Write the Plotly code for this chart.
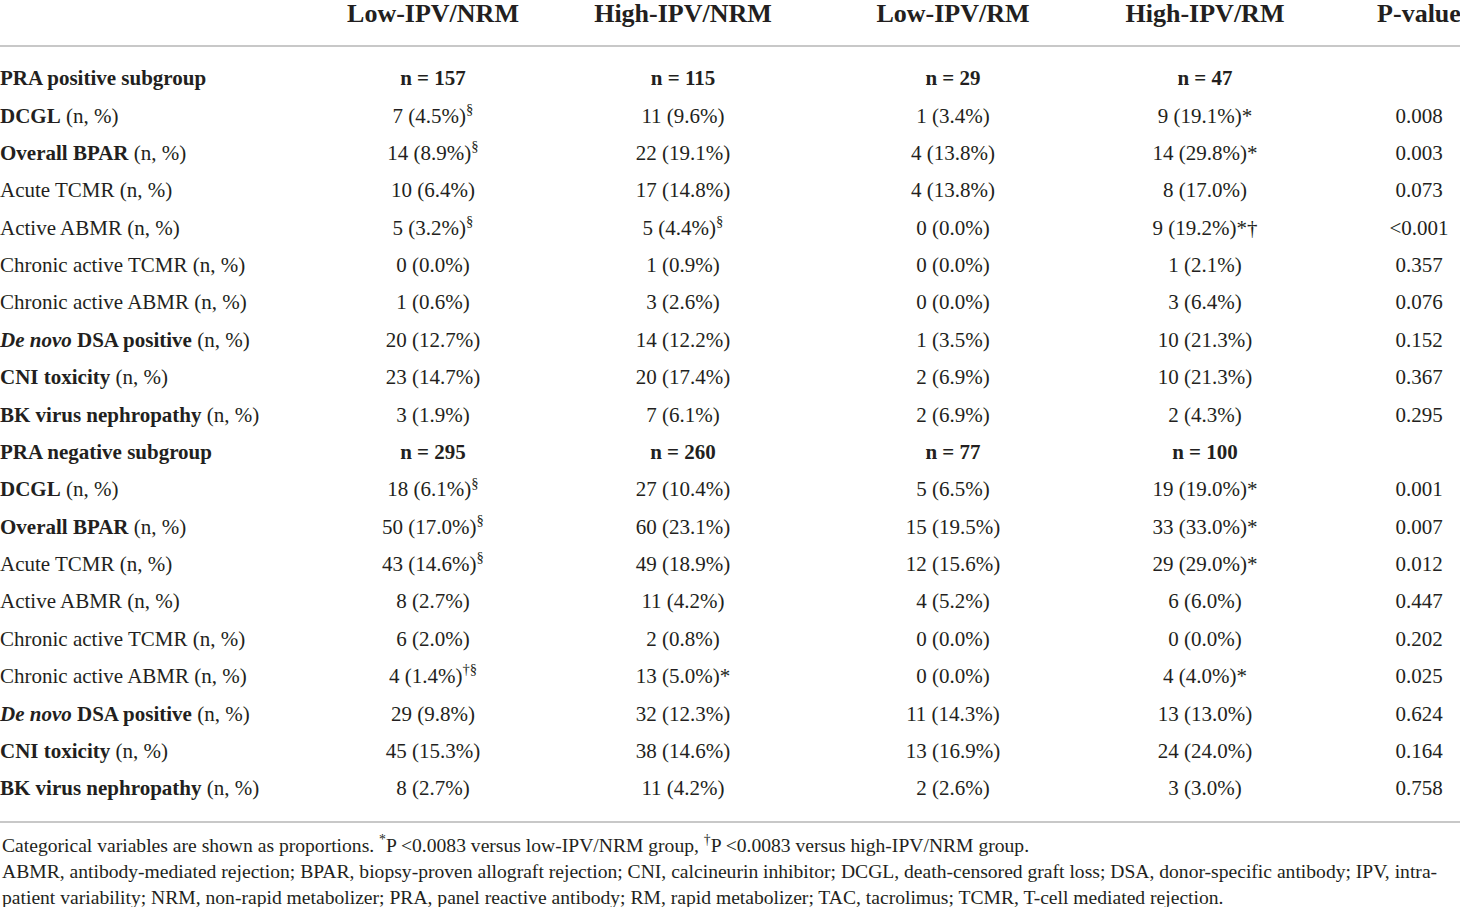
import re
import plotly.graph_objects as go

# Table content
columns = ["Low-IPV/NRM", "High-IPV/NRM", "Low-IPV/RM", "High-IPV/RM", "P-value"]

row_names = [
    "PRA positive subgroup", "DCGL", "Overall BPAR", "Acute TCMR", "Active ABMR",
    "Chronic active TCMR", "Chronic active ABMR", "De novo DSA positive",
    "CNI toxicity", "BK virus nephropathy",
    "PRA negative subgroup", "DCGL", "Overall BPAR", "Acute TCMR", "Active ABMR",
    "Chronic active TCMR", "Chronic active ABMR", "De novo DSA positive",
    "CNI toxicity", "BK virus nephropathy",
]
subgroup_rows = {"PRA positive subgroup", "PRA negative subgroup"}
bold_names = {"DCGL", "Overall BPAR", "De novo DSA positive", "CNI toxicity",
              "BK virus nephropathy"}

low_nrm = ["n = 157", "7 (4.5%)§", "14 (8.9%)§", "10 (6.4%)", "5 (3.2%)§",
           "0 (0.0%)", "1 (0.6%)", "20 (12.7%)", "23 (14.7%)", "3 (1.9%)",
           "n = 295", "18 (6.1%)§", "50 (17.0%)§", "43 (14.6%)§", "8 (2.7%)",
           "6 (2.0%)", "4 (1.4%)†§", "29 (9.8%)", "45 (15.3%)", "8 (2.7%)"]
high_nrm = ["n = 115", "11 (9.6%)", "22 (19.1%)", "17 (14.8%)", "5 (4.4%)§",
            "1 (0.9%)", "3 (2.6%)", "14 (12.2%)", "20 (17.4%)", "7 (6.1%)",
            "n = 260", "27 (10.4%)", "60 (23.1%)", "49 (18.9%)", "11 (4.2%)",
            "2 (0.8%)", "13 (5.0%)*", "32 (12.3%)", "38 (14.6%)", "11 (4.2%)"]
low_rm = ["n = 29", "1 (3.4%)", "4 (13.8%)", "4 (13.8%)", "0 (0.0%)",
          "0 (0.0%)", "0 (0.0%)", "1 (3.5%)", "2 (6.9%)", "2 (6.9%)",
          "n = 77", "5 (6.5%)", "15 (19.5%)", "12 (15.6%)", "4 (5.2%)",
          "0 (0.0%)", "0 (0.0%)", "11 (14.3%)", "13 (16.9%)", "2 (2.6%)"]
high_rm = ["n = 47", "9 (19.1%)*", "14 (29.8%)*", "8 (17.0%)", "9 (19.2%)*†",
           "1 (2.1%)", "3 (6.4%)", "10 (21.3%)", "10 (21.3%)", "2 (4.3%)",
           "n = 100", "19 (19.0%)*", "33 (33.0%)*", "29 (29.0%)*", "6 (6.0%)",
           "0 (0.0%)", "4 (4.0%)*", "13 (13.0%)", "24 (24.0%)", "3 (3.0%)"]
p_values = ["", "0.008", "0.003", "0.073", "<0.001",
            "0.357", "0.076", "0.152", "0.367", "0.295",
            "", "0.001", "0.007", "0.012", "0.447",
            "0.202", "0.025", "0.624", "0.164", "0.758"]

footnotes = [
    "Categorical variables are shown as proportions. <sup>*</sup>P <0.0083 versus low-IPV/NRM group, "
    "<sup>†</sup>P <0.0083 versus high-IPV/NRM group.",
    "ABMR, antibody-mediated rejection; BPAR, biopsy-proven allograft rejection; CNI, calcineurin inhibitor; "
    "DCGL, death-censored graft loss; DSA, donor-specific antibody; IPV, intra-",
    "patient variability; NRM, non-rapid metabolizer; PRA, panel reactive antibody; RM, rapid metabolizer; "
    "TAC, tacrolimus; TCMR, T-cell mediated rejection.",
]

# Layout constants (pixels)
W, H = 1460, 907
FONT = "Liberation Serif"
INK = "#231f20"
col_x = [433, 683, 953, 1205, 1419]
header_y = 15
row_y0, row_step = 80, 37.37
foot_y = [844, 871, 897]


def fmt_label(name):
    if name in subgroup_rows:
        return f"<b>{name}</b>"
    txt = name.replace("De novo", "<i>De novo</i>")
    if name in bold_names:
        txt = f"<b>{txt}</b>"
    return txt + " (n, %)"


def fmt_value(v, name):
    if name in subgroup_rows:
        return f"<b>{v}</b>"
    m = re.search(r"[†§]*§$", v)
    if m:
        v = v[:m.start()] + f"<sup>{m.group()}</sup>"
    return v


row_y = [row_y0 + i * row_step for i in range(len(row_names))]

fig = go.Figure()

# header row
fig.add_trace(go.Scatter(
    x=col_x, y=[header_y] * len(columns), mode="text",
    text=[f"<b>{c}</b>" for c in columns], textposition="middle center",
    textfont=dict(family=FONT, size=26, color=INK), hoverinfo="skip",
    cliponaxis=False,
))

# row labels
fig.add_trace(go.Scatter(
    x=[0] * len(row_names), y=row_y, mode="text",
    text=[fmt_label(n) for n in row_names], textposition="middle right",
    textfont=dict(family=FONT, size=21, color=INK), hoverinfo="skip",
    cliponaxis=False,
))

# value columns
for cx, values in zip(col_x, [low_nrm, high_nrm, low_rm, high_rm, p_values]):
    keep = [i for i, v in enumerate(values) if v]
    fig.add_trace(go.Scatter(
        x=[cx] * len(keep), y=[row_y[i] for i in keep], mode="text",
        text=[fmt_value(values[i], row_names[i]) for i in keep],
        textposition="middle center",
        textfont=dict(family=FONT, size=21, color=INK), hoverinfo="skip",
        cliponaxis=False,
    ))

# footnotes
for fy, txt in zip(foot_y, footnotes):
    fig.add_annotation(x=0, y=fy, xref="x", yref="y", text=txt, showarrow=False,
                       xanchor="left", yanchor="middle", align="left",
                       font=dict(family=FONT, size=19.6, color=INK))

# rules
for ly in [46, 822]:
    fig.add_shape(type="line", x0=0, x1=W, y0=ly, y1=ly, xref="x", yref="y",
                  line=dict(color="#c8c8c8", width=2))

fig.update_layout(
    width=W, height=H, margin=dict(l=0, r=0, t=0, b=0),
    paper_bgcolor="white", plot_bgcolor="white", showlegend=False,
    xaxis=dict(range=[0, W], visible=False, fixedrange=True),
    yaxis=dict(range=[H, 0], visible=False, fixedrange=True),
)

fig.write_html("out.html", config={"displayModeBar": False},
               post_script="document.body.style.margin='0';")
